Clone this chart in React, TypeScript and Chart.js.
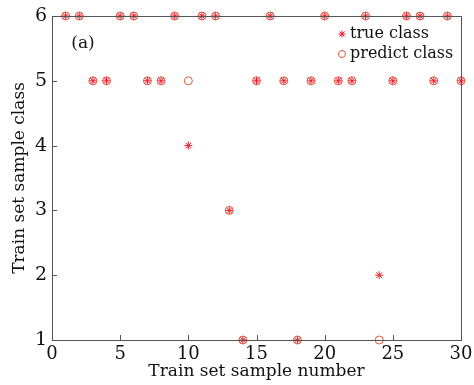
import React, { useEffect, useRef } from "react";
import { Chart, registerables } from "chart.js";

Chart.register(...registerables);

// Training samples 1..30 with their labelled and predicted classes
const sampleNumbers = [1, 2, 3, 4, 5, 6, 7, 8, 9, 10, 11, 12, 13, 14, 15, 16, 17, 18, 19, 20, 21, 22, 23, 24, 25, 26, 27, 28, 29, 30];
const trueClass = [6, 6, 5, 5, 6, 6, 5, 5, 6, 4, 6, 6, 3, 1, 5, 6, 5, 1, 5, 6, 5, 5, 6, 2, 5, 6, 6, 5, 6, 5];
const predictClass = [6, 6, 5, 5, 6, 6, 5, 5, 6, 5, 6, 6, 3, 1, 5, 6, 5, 1, 5, 6, 5, 5, 6, 1, 5, 6, 6, 5, 6, 5];
const xTicks = [0, 5, 10, 15, 20, 25, 30];
const yTicks = [1, 2, 3, 4, 5, 6];

const FONT = "'DejaVu Serif', serif";
const TRUE_COLOR = "#ee1c2e";
const PRED_COLOR = "#e0583c";
const AXIS_COLOR = "#555555";

function drawAsterisk(ctx: CanvasRenderingContext2D, x: number, y: number, r: number) {
  ctx.save();
  ctx.strokeStyle = TRUE_COLOR;
  ctx.lineWidth = 1;
  ctx.beginPath();
  for (let i = 0; i < 4; i++) {
    const a = (i * Math.PI) / 4;
    ctx.moveTo(x - r * Math.cos(a), y - r * Math.sin(a));
    ctx.lineTo(x + r * Math.cos(a), y + r * Math.sin(a));
  }
  ctx.stroke();
  ctx.restore();
}

const framePlugin = {
  id: "frame",
  afterDraw(chart: any) {
    const { ctx, chartArea } = chart;
    const xs = chart.scales.x;
    const ys = chart.scales.y;
    ctx.save();
    ctx.strokeStyle = AXIS_COLOR;
    ctx.lineWidth = 1;
    ctx.strokeRect(chartArea.left + 0.5, chartArea.top + 0.5, chartArea.right - chartArea.left, chartArea.bottom - chartArea.top);
    ctx.beginPath();
    xTicks.forEach((v) => {
      const px = Math.round(xs.getPixelForValue(v)) + 0.5;
      ctx.moveTo(px, chartArea.bottom);
      ctx.lineTo(px, chartArea.bottom - 5);
    });
    yTicks.forEach((v) => {
      const py = Math.round(ys.getPixelForValue(v)) + 0.5;
      ctx.moveTo(chartArea.left, py);
      ctx.lineTo(chartArea.left + 5, py);
    });
    ctx.stroke();

    // panel tag
    ctx.fillStyle = "#111";
    ctx.font = `17px ${FONT}`;
    ctx.textAlign = "center";
    ctx.textBaseline = "middle";
    ctx.fillText("(a)", chartArea.left + 31, chartArea.top + 28);

    // legend
    const lx = chartArea.right - 119;
    ctx.textAlign = "left";
    ctx.font = `16px ${FONT}`;
    drawAsterisk(ctx, lx, chartArea.top + 18, 3.5);
    ctx.fillText("true class", lx + 8, chartArea.top + 18);
    ctx.beginPath();
    ctx.strokeStyle = PRED_COLOR;
    ctx.arc(lx, chartArea.top + 38, 3.5, 0, Math.PI * 2);
    ctx.stroke();
    ctx.fillText("predict class", lx + 8, chartArea.top + 38);
    ctx.restore();
  },
};

export default function App() {
  const canvasRef = useRef<HTMLCanvasElement | null>(null);

  useEffect(() => {
    if (!canvasRef.current) return;
    const chart = new Chart(canvasRef.current, {
      type: "scatter",
      data: {
        datasets: [
          {
            label: "predict class",
            data: sampleNumbers.map((x, i) => ({ x, y: predictClass[i] })),
            pointStyle: "circle",
            pointRadius: 4,
            borderColor: PRED_COLOR,
            backgroundColor: "rgba(0,0,0,0)",
            borderWidth: 1,
            clip: false,
          },
          {
            label: "true class",
            data: sampleNumbers.map((x, i) => ({ x, y: trueClass[i] })),
            pointStyle: "star",
            pointRadius: 4,
            borderColor: TRUE_COLOR,
            backgroundColor: TRUE_COLOR,
            borderWidth: 1,
            clip: false,
          },
        ],
      },
      options: {
        responsive: false,
        animation: false,
        layout: { padding: { top: 16, right: 13, left: 0, bottom: 0 } },
        plugins: { legend: { display: false }, tooltip: { enabled: false } },
        scales: {
          x: {
            type: "linear",
            min: 0,
            max: 30,
            afterBuildTicks: (s: any) => {
              s.ticks = xTicks.map((v) => ({ value: v }));
            },
            afterFit: (s: any) => {
              s.height = 45;
              s.paddingLeft = 0;
              s.paddingRight = 0;
            },
            grid: { display: false, drawTicks: false },
            border: { display: false },
            ticks: { color: "#111", font: { family: FONT, size: 18 }, padding: 4, maxRotation: 0 },
            title: {
              display: true,
              text: "Train set sample number",
              color: "#111",
              font: { family: FONT, size: 17 },
              padding: { top: 0, bottom: 3 },
            },
          },
          y: {
            type: "linear",
            min: 1,
            max: 6,
            afterBuildTicks: (s: any) => {
              s.ticks = yTicks.map((v) => ({ value: v }));
            },
            afterFit: (s: any) => {
              s.width = 52;
              s.paddingTop = 0;
              s.paddingBottom = 0;
            },
            grid: { display: false, drawTicks: false },
            border: { display: false },
            ticks: { color: "#111", font: { family: FONT, size: 19 }, padding: 5 },
            title: {
              display: true,
              text: "Train set sample class",
              color: "#111",
              font: { family: FONT, size: 17 },
              padding: { top: 9, bottom: 0 },
            },
          },
        },
      },
      plugins: [framePlugin],
    });
    return () => chart.destroy();
  }, []);

  return (
    <div style={{ position: "absolute", left: 0, top: 0, width: 474, height: 385, background: "#fff" }}>
      <canvas ref={canvasRef} width={474} height={385} />
    </div>
  );
}
